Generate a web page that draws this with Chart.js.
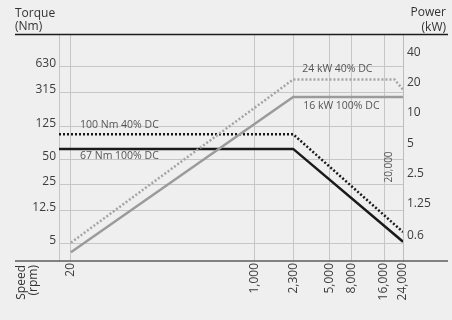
<!DOCTYPE html>
<html>
<head>
<meta charset="utf-8">
<script src="https://cdn.jsdelivr.net/npm/chart.js@4/dist/chart.umd.min.js"></script>
<style>
  html, body { margin: 0; padding: 0; background: #efefef; }
  #wrap { position: relative; width: 452px; height: 320px; }
</style>
</head>
<body>
<div id="wrap"><canvas id="c" width="452" height="320"></canvas></div>
<script>
// Axis ticks
const speedTicks = [20, 1000, 2300, 5000, 8000, 16000, 24000];   // rpm
const torqueTicks = [630, 315, 125, 50, 25, 12.5, 5];            // Nm
const powerTicks = [40, 20, 10, 5, 2.5, 1.25, 0.6];              // kW

// Torque curves (rpm -> Nm)
const torqueSpeed = [15.5, 2300, 24000];
const torque40 = [100, 100, 6.9];
const torque100 = [67, 67, 5.3];

// Power curves (rpm -> kW)
const power40Speed = [20, 2300, 20000, 24000];
const power40 = [0.56, 24, 24, 19];
const power100Speed = [20, 2300, 24000];
const power100 = [0.45, 16, 16];

// Curve captions
const captionTorque40 = '100 Nm 40% DC';
const captionTorque100 = '67 Nm 100% DC';
const captionPower40 = '24 kW 40% DC';
const captionPower100 = '16 kW 100% DC';
const speedMark = 20000;

const FONT = '"Open Sans", "Noto Sans", sans-serif';
const GRID = '#c6c6c6';
const TEXT = '#3c3c3c';

const pts = (xs, ys) => xs.map((x, i) => ({ x, y: ys[i] }));
const withCommas = v => String(v).replace(/\B(?=(\d{3})+(?!\d))/g, ',');

const decor = {
  id: 'decor',
  afterDraw(chart) {
    const { ctx, chartArea: a, scales: { x, y, y1 } } = chart;
    ctx.save();

    // header rule and speed baseline
    ctx.lineWidth = 1.5;
    ctx.strokeStyle = '#1c1c1c';
    ctx.beginPath(); ctx.moveTo(15, a.top + 0.5); ctx.lineTo(448, a.top + 0.5); ctx.stroke();
    ctx.strokeStyle = '#5c5c5c';
    ctx.beginPath(); ctx.moveTo(15, a.bottom); ctx.lineTo(448, a.bottom); ctx.stroke();

    // axis titles
    ctx.fillStyle = '#333';
    ctx.font = '12px ' + FONT;
    ctx.textBaseline = 'middle';
    ctx.textAlign = 'left';
    ctx.fillText('Torque', 15, 14);
    ctx.fillText('(Nm)', 15, 27);
    ctx.textAlign = 'right';
    ctx.fillText('Power', 446, 13);
    ctx.fillText('(kW)', 446, 28);

    ctx.save();
    ctx.translate(22, a.bottom + 4);
    ctx.rotate(-Math.PI / 2);
    ctx.textAlign = 'right';
    ctx.fillText('Speed', 0, 0);
    ctx.fillText('(rpm)', 0, 12);
    ctx.restore();

    // curve captions
    ctx.fillStyle = '#555';
    ctx.font = '10.5px ' + FONT;
    ctx.textAlign = 'left';
    ctx.fillText(captionTorque40, a.left + 21, y.getPixelForValue(torque40[0]) - 9);
    ctx.fillText(captionTorque100, a.left + 21, y.getPixelForValue(torque100[0]) + 7);
    ctx.fillText(captionPower40, x.getPixelForValue(2300) + 9, y1.getPixelForValue(power40[1]) - 10);
    ctx.fillText(captionPower100, x.getPixelForValue(2300) + 10, y1.getPixelForValue(power100[1]) + 9);

    // rotated speed mark inside the plot
    ctx.save();
    ctx.font = '10px ' + FONT;
    ctx.translate(x.getPixelForValue(speedMark) - 5, 167);
    ctx.rotate(-Math.PI / 2);
    ctx.textAlign = 'center';
    ctx.fillText(withCommas(speedMark), 0, 0);
    ctx.restore();

    ctx.restore();
  }
};

new Chart(document.getElementById('c'), {
  type: 'line',
  data: {
    datasets: [
      {
        label: captionPower40, yAxisID: 'y1', data: pts(power40Speed, power40),
        borderColor: '#a4a4a4', borderWidth: 2.5, borderDash: [2, 2], borderCapStyle: 'butt', order: 0
      },
      {
        label: captionPower100, yAxisID: 'y1', data: pts(power100Speed, power100),
        borderColor: '#9b9b9b', borderWidth: 2.5, order: 1
      },
      {
        label: captionTorque40, yAxisID: 'y', data: pts(torqueSpeed, torque40),
        borderColor: '#1a1a1a', borderWidth: 2.5, borderDash: [2, 2], borderCapStyle: 'butt', order: 2
      },
      {
        label: captionTorque100, yAxisID: 'y', data: pts(torqueSpeed, torque100),
        borderColor: '#1a1a1a', borderWidth: 2.5, order: 3
      }
    ]
  },
  options: {
    responsive: false,
    animation: false,
    events: [],
    parsing: true,
    elements: { point: { radius: 0 }, line: { tension: 0, fill: false } },
    layout: { padding: { top: 34, left: 0, right: 0, bottom: 0 } },
    plugins: { legend: { display: false }, tooltip: { enabled: false }, title: { display: false } },
    scales: {
      x: {
        type: 'logarithmic',
        min: 15.5, max: 24000,
        afterBuildTicks: s => { s.ticks = speedTicks.map(v => ({ value: v })); },
        afterFit: s => { s.height = 59; },
        ticks: {
          autoSkip: false, minRotation: 90, maxRotation: 90, padding: 2,
          color: TEXT, font: { family: FONT, size: 12 },
          callback: v => withCommas(v)
        },
        grid: { color: GRID, lineWidth: 1, drawTicks: false },
        border: { display: false }
      },
      y: {
        type: 'logarithmic',
        position: 'left',
        min: 3.124, max: 1551,
        afterBuildTicks: s => { s.ticks = torqueTicks.map(v => ({ value: v })); },
        afterFit: s => { s.width = 59; },
        ticks: {
          autoSkip: false, padding: 3, labelOffset: -3,
          color: TEXT, font: { family: FONT, size: 12 },
          callback: v => String(v)
        },
        grid: { color: GRID, lineWidth: 1, drawTicks: false },
        border: { display: true, color: GRID, width: 1 }
      },
      y1: {
        type: 'logarithmic',
        position: 'right',
        min: 0.3673, max: 68.39,
        afterBuildTicks: s => { s.ticks = powerTicks.map(v => ({ value: v })); },
        afterFit: s => { s.width = 49; },
        ticks: {
          autoSkip: false, padding: 4, labelOffset: -4.5,
          color: TEXT, font: { family: FONT, size: 12 },
          callback: v => String(v)
        },
        grid: { display: false, drawTicks: false },
        border: { display: true, color: '#bdbdbd', width: 1 }
      }
    }
  },
  plugins: [decor]
});
</script>
</body>
</html>
